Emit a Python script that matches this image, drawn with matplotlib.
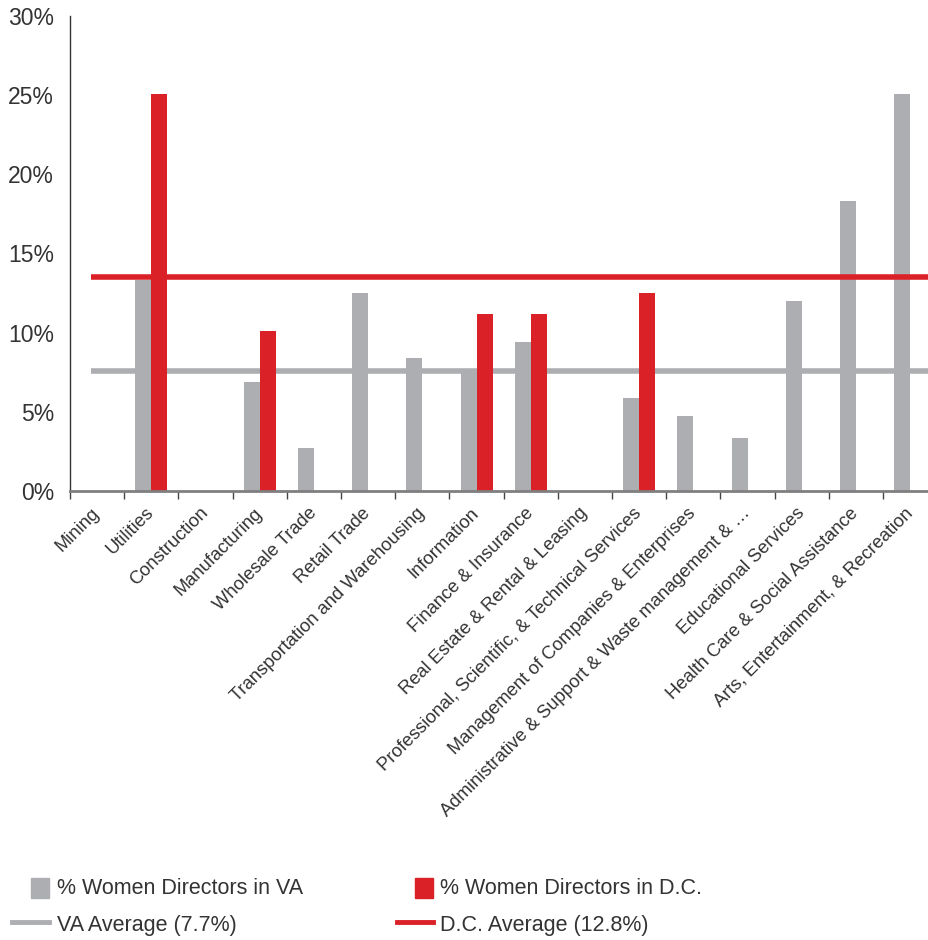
import matplotlib
matplotlib.use("Agg")
import matplotlib.pyplot as plt
from matplotlib.patches import Rectangle
from matplotlib.lines import Line2D
from matplotlib.ticker import FixedLocator
import numpy as np

categories = [
    "Mining", "Utilities", "Construction", "Manufacturing", "Wholesale Trade",
    "Retail Trade", "Transportation and Warehousing", "Information",
    "Finance & Insurance", "Real Estate & Rental & Leasing",
    "Professional, Scientific, & Technical Services",
    "Management of Companies & Enterprises",
    "Administrative & Support & Waste management & \u2026",
    "Educational Services", "Health Care & Social Assistance",
    "Arts, Entertainment, & Recreation",
]
va_values = [0, 13.3, 0, 6.9, 2.7, 12.5, 8.4, 7.7, 9.4, 0, 5.9, 4.75, 3.35, 12.0, 18.3, 25.1]
dc_values = [0, 25.1, 0, 10.1, 0, 0, 0, 11.2, 11.2, 0, 12.5, 0, 0, 0, 0, 0]
va_average = 7.6
dc_average = 13.5
y_ticks = [0, 5, 10, 15, 20, 25, 30]
y_tick_labels = ["0%", "5%", "10%", "15%", "20%", "25%", "30%"]
legend_labels = ["% Women Directors in VA", "% Women Directors in D.C.",
                 "VA Average (7.7%)", "D.C. Average (12.8%)"]

GRAY = "#adaeb1"
RED = "#da2128"
TEXT = "#333333"
FONT = "Liberation Sans"
plt.rcParams["font.family"] = [FONT, "DejaVu Sans"]

W, H = 929, 940
fig = plt.figure(figsize=(W / 100, H / 100), dpi=100)
ax_left, ax_right, ax_bottom, ax_top = 70, W, 491, 16
ax = fig.add_axes([ax_left / W, (H - ax_bottom) / H, (ax_right - ax_left) / W, (ax_bottom - ax_top) / H])

spacing = 54.2
x = np.arange(len(categories))
ax.set_xlim(-0.5, -0.5 + (ax_right - ax_left) / spacing)
ax.set_ylim(0, 30)

bw = 16 / spacing
ax.bar(x - bw / 2, va_values, width=bw, color=GRAY, zorder=2)
ax.hlines(va_average, -0.11, 20, color=GRAY, lw=4.0, zorder=3)
ax.bar(x + bw / 2, dc_values, width=bw, color=RED, zorder=4)
ax.hlines(dc_average, -0.11, 20, color=RED, lw=4.0, zorder=5)

for s in ["top", "right"]:
    ax.spines[s].set_visible(False)
ax.spines["left"].set_color("#333333")
ax.spines["left"].set_linewidth(1.0)
ax.spines["bottom"].set_color("#7f7f7f")
ax.spines["bottom"].set_linewidth(2.0)
ax.spines["bottom"].set_zorder(6)

ax.set_yticks(y_ticks)
ax.set_yticklabels(y_tick_labels, fontsize=16.5, color=TEXT)
ax.tick_params(axis="y", length=0, pad=11.5)

ax.set_xticks(x)
ax.set_xticklabels(categories, fontsize=13.2, color=TEXT)
ax.xaxis.set_minor_locator(FixedLocator(np.arange(len(categories) + 1) - 0.5))
ax.tick_params(axis="x", which="major", length=0, pad=14)
ax.tick_params(axis="x", which="minor", length=6, width=1.0, color="#444444", direction="out")
for lbl in ax.get_xticklabels():
    lbl.set_rotation(45)
    lbl.set_rotation_mode("anchor")
    lbl.set_ha("right")
    lbl.set_va("center")

# legend (manual placement)
def fx(px):
    return px / W

def fy(py):
    return 1 - py / H

fig.add_artist(Rectangle((fx(31), fy(898)), 18 / W, 20 / H, transform=fig.transFigure, color=GRAY))
fig.add_artist(Rectangle((fx(415), fy(898)), 18 / W, 20 / H, transform=fig.transFigure, color=RED))
fig.add_artist(Line2D([fx(12), fx(49)], [fy(922), fy(922)], transform=fig.transFigure, color=GRAY, lw=3.5))
fig.add_artist(Line2D([fx(397), fx(433)], [fy(922), fy(922)], transform=fig.transFigure, color=RED, lw=3.5))
fs_leg = 15.5
fig.text(fx(57), fy(889), legend_labels[0], fontsize=fs_leg, color=TEXT, va="center", ha="left")
fig.text(fx(440), fy(889), legend_labels[1], fontsize=fs_leg, color=TEXT, va="center", ha="left")
fig.text(fx(57), fy(925), legend_labels[2], fontsize=fs_leg, color=TEXT, va="center", ha="left")
fig.text(fx(440), fy(925), legend_labels[3], fontsize=fs_leg, color=TEXT, va="center", ha="left")

fig.savefig("out.png", dpi=100)
